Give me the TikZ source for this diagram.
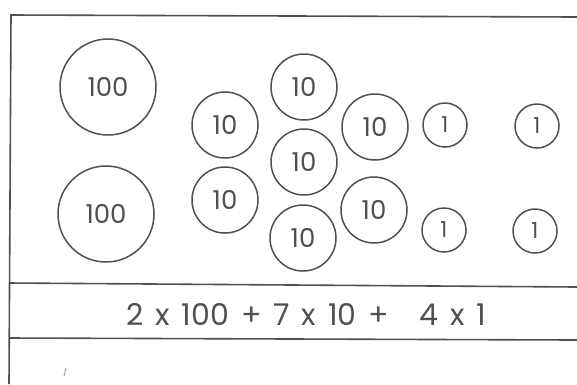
\documentclass[tikz,border=0pt]{standalone}
\usepackage{fontspec}
\setmainfont{Poppins}
\definecolor{ink}{HTML}{505050}
\begin{document}
\begin{tikzpicture}[x=1pt,y=-1pt,
  frame/.style={draw=ink,line width=1.6pt},
  coin/.style={circle,draw=ink,line width=1.5pt,inner sep=0pt,text=ink},
  big/.style={coin,minimum size=96pt,font=\fontsize{26}{26}\selectfont},
  mid/.style={coin,minimum size=66pt,font=\fontsize{26}{26}\selectfont},
  small/.style={coin,minimum size=44pt,font=\fontsize{22}{22}\selectfont}]
\useasboundingbox (0,0) rectangle (577,384);
% frame
\coordinate (tl) at (11,15);
\coordinate (tr) at (577,17);
\coordinate (bl) at (9,384);
\coordinate (m1l) at (9,283);
\coordinate (m1r) at (577,287);
\coordinate (m2l) at (9,338);
\coordinate (m2r) at (577,340);
\draw[frame] (tr) -- (tl) -- (bl);
\draw[frame] (m1l) -- (m1r);
\draw[frame] (m2l) -- (m2r);
% hundreds
\node[big] (h1) at (108,87) {100};
\node[big] (h2) at (106,214) {100};
% tens
\node[mid] (t1) at (225,125) {10};
\node[mid] (t2) at (225,200) {10};
\node[mid] (t3) at (304,87) {10};
\node[mid] (t4) at (304,162) {10};
\node[mid] (t5) at (303,238) {10};
\node[mid] (t6) at (375,127) {10};
\node[mid] (t7) at (374,210) {10};
% ones
\node[small] (o1) at (445,125) {1};
\node[small] (o2) at (537,126) {1};
\node[small] (o3) at (444,230) {1};
\node[small] (o4) at (535,231) {1};
% sum
\node[text=ink,font=\fontsize{30}{30}\selectfont,anchor=west,inner sep=0pt] (sum) at (126,314) {\spaceskip=12pt 2 x 100 + 7 x 10 +\hspace{30pt}4 x 1};
% scan mark
\draw[ink!60,line width=0.8pt] (64,376) -- (66,368);
\end{tikzpicture}
\end{document}
